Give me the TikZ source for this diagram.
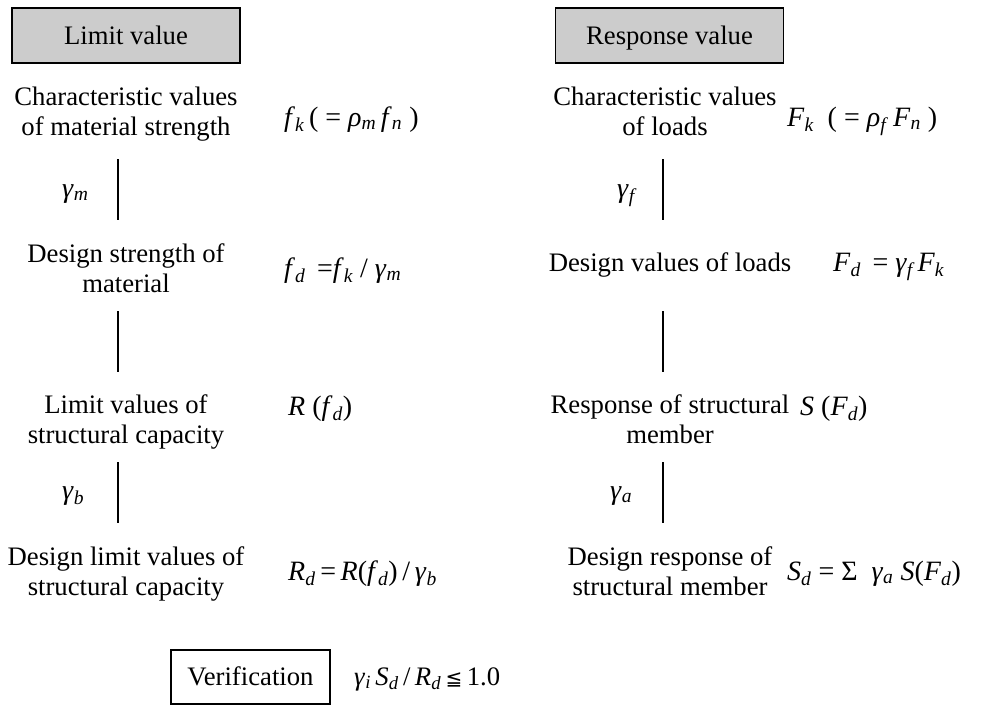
\documentclass[tikz,border=0pt]{standalone}
\usepackage{fontspec}
\setmainfont{Liberation Serif}
\newfontfamily\symfont{DejaVu Sans}
\usepackage{tikz}
\newcommand{\iv}[1]{\textit{#1}}
\newcommand{\sub}[1]{\textsubscript{\itshape #1}}
\tikzset{
  headbox/.style={draw,line width=1.4pt,fill=gray!40,minimum width=228pt,minimum height=55pt,inner sep=0pt,text height=18pt,text depth=0pt},
  verbox/.style={draw,line width=1.4pt,fill=white,minimum width=159pt,minimum height=54pt,inner sep=0pt,text height=18pt,text depth=2pt},
  term/.style={align=center,anchor=base,inner sep=0pt},
  eqn/.style={anchor=base west,inner sep=0pt,font=\fontsize{28}{30}\selectfont},
  link/.style={line width=1.4pt}
}

\begin{document}
\begin{tikzpicture}[x=1pt,y=-1pt,font=\fontsize{26.7}{30}\selectfont]
    \useasboundingbox (0,0) rectangle (991,705);

    % headings
    \node[headbox] (limit) at (126,35.5) {Limit value};
    \node[headbox] (resp) at (669.5,35.5) {Response value};

    % limit value side
    \node[term] (lchar) at (126,135) {Characteristic values\\of material strength};
    \node[eqn] (lcharq) at (284,126) {\iv{f}\sub{k}\,( = \iv{ρ}\sub{m}\,\iv{f}\sub{n} )};
    \node[eqn] (gm) at (62,197) {\iv{γ}\sub{m}};
    \node[term] (ldes) at (126,292) {Design strength of\\material};
    \node[eqn] (ldesq) at (284,277) {\iv{f}\sub{d}\, =\iv{f}\sub{k} / \iv{γ}\sub{m}};
    \node[term] (lcap) at (126,443) {Limit values of\\structural capacity};
    \node[eqn] (lcapq) at (288,415) {\iv{R}\ (\iv{f}\sub{d})};
    \node[eqn] (gb) at (62,499) {\iv{γ}\sub{b}};
    \node[term] (ldcap) at (126,595) {Design limit values of\\structural capacity};
    \node[eqn] (ldcapq) at (288,580) {\iv{R}\sub{d}\,=\,\iv{R}(\iv{f}\sub{d})\,/\,\iv{γ}\sub{b}};

    \coordinate (l1a) at (118,159);  \coordinate (l1b) at (118,220);
    \coordinate (l2a) at (118,311);  \coordinate (l2b) at (118,372);
    \coordinate (l3a) at (118,462);  \coordinate (l3b) at (118,523);
    \draw[link] (l1a) -- (l1b);
    \draw[link] (l2a) -- (l2b);
    \draw[link] (l3a) -- (l3b);

    % response value side
    \node[term] (rchar) at (665,135) {Characteristic values\\of loads};
    \node[eqn] (rcharq) at (787,126) {\iv{F}\sub{k}\ \ ( = \iv{ρ}\sub{f}\ \iv{F}\sub{n}\ )};
    \node[eqn] (gf) at (617,197) {\iv{γ}\sub{f}};
    \node[term] (rdes) at (670,271) {Design values of loads};
    \node[eqn] (rdesq) at (833,271) {\iv{F}\sub{d}\,\ = \iv{γ}\sub{f}\,\iv{F}\sub{k}};
    \node[term] (rmem) at (670,443) {Response of structural\\member};
    \node[eqn] (rmemq) at (800,415) {\iv{S}\ (\iv{F}\sub{d})};
    \node[eqn] (ga) at (610,499) {\iv{γ}\sub{a}};
    \node[term] (rdmem) at (670,595) {Design response of\\structural member};
    \node[eqn] (rdmemq) at (787,580) {\iv{S}\sub{d} = Σ\ \ \iv{γ}\sub{a}\ \iv{S}(\iv{F}\sub{d})};

    \coordinate (r1a) at (663,159);  \coordinate (r1b) at (663,220);
    \coordinate (r2a) at (663,311);  \coordinate (r2b) at (663,372);
    \coordinate (r3a) at (663,462);  \coordinate (r3b) at (663,523);
    \draw[link] (r1a) -- (r1b);
    \draw[link] (r2a) -- (r2b);
    \draw[link] (r3a) -- (r3b);

    % verification
    \node[verbox] (verif) at (250.5,677) {Verification};
    \node[eqn,font=\fontsize{26.7}{30}\selectfont] (verifq) at (354,685)
        {\iv{γ}\sub{i}\,\iv{S}\sub{d}\,/\,\iv{R}\sub{d}\,{\symfont\fontsize{20}{20}\selectfont ≦}\,1.0};
\end{tikzpicture}
\end{document}
